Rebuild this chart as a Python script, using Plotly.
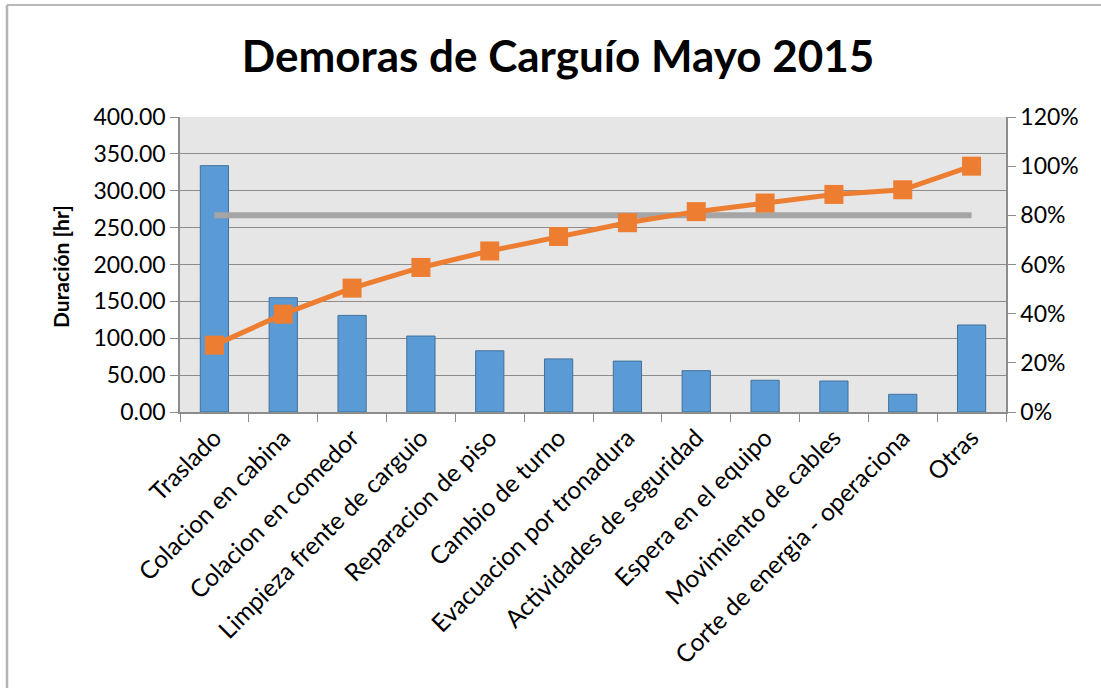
import plotly.graph_objects as go

# Datos de demoras (horas) y porcentaje acumulado
categorias = [
    "Traslado", "Colacion en cabina", "Colacion en comedor",
    "Limpieza frente de carguio", "Reparacion de piso", "Cambio de turno",
    "Evacuacion por tronadura", "Actividades de seguridad",
    "Espera en el equipo", "Movimiento de cables",
    "Corte de energia - operaciona", "Otras",
]
duracion = [334, 155, 131, 103, 83, 72, 69, 56, 43, 42, 24, 118]
acumulado = [27.2, 39.8, 50.4, 58.8, 65.5, 71.4, 77.0, 81.5, 85.0, 88.5, 90.4, 100.0]
meta = [80] * 12

FONT = "Lato"
W, H = 1101, 688

fig = go.Figure()

fig.add_trace(go.Bar(
    x=categorias, y=duracion, name="Duración",
    marker=dict(color="#5B9BD5", line=dict(color="#41719C", width=1)),
))

fig.add_trace(go.Scatter(
    x=categorias, y=meta, yaxis="y2", mode="lines", name="80%",
    line=dict(color="#A5A5A5", width=6),
))

fig.add_trace(go.Scatter(
    x=categorias, y=acumulado, yaxis="y2", mode="lines+markers", name="Acumulado",
    line=dict(color="#ED7D31", width=5),
    marker=dict(symbol="square", size=19, color="#ED7D31"),
))

# pixel -> coordenadas paper (area de trazado 180..1006 x 117..412)
px_x = lambda p: (p - 180) / 826
px_y = lambda p: (412 - p) / 295

fig.update_layout(
    width=W, height=H,
    margin=dict(l=180, r=W - 180 - 826, t=117, b=H - 117 - 295),
    paper_bgcolor="white",
    plot_bgcolor="#E6E6E6",
    showlegend=False,
    bargap=0.59,
    font=dict(family=FONT, color="black"),
    title=dict(
        text="<b>Demoras de Carguío Mayo 2015</b>",
        font=dict(size=44, family=FONT, color="black"),
        x=558 / W, xanchor="center", y=1 - 57 / H, yanchor="middle",
        xref="container", yref="container",
    ),
    xaxis=dict(
        type="category", range=[-0.5, 11.5], tickangle=-45, tickfont=dict(size=24.5),
        showgrid=False, tickson="boundaries", ticks="outside", ticklen=8,
        tickcolor="#8C8C8C", showline=True, linecolor="#8C8C8C", linewidth=1.5,
    ),
    yaxis=dict(
        range=[0, 400], dtick=50, tickformat=".2f", tickfont=dict(size=23),
        showgrid=True, gridcolor="#8C8C8C", gridwidth=1.2,
        ticks="outside", ticklen=8, tickcolor="#8C8C8C",
        showline=True, linecolor="#8C8C8C", linewidth=1.5, zeroline=False,
    ),
    yaxis2=dict(
        range=[0, 120], dtick=20, ticksuffix="%", tickfont=dict(size=23),
        overlaying="y", side="right", showgrid=False,
        ticks="outside", ticklen=8, tickcolor="#8C8C8C",
        showline=True, linecolor="#8C8C8C", linewidth=1.5, zeroline=False,
    ),
    annotations=[
        dict(text="<b>Duración [hr]</b>", textangle=-90, showarrow=False,
             xref="paper", yref="paper", x=px_x(60), y=px_y(267),
             xanchor="center", yanchor="middle", font=dict(size=21)),
    ],
    shapes=[
        dict(type="line", xref="paper", yref="paper",
             x0=px_x(7), x1=px_x(1110), y0=px_y(5), y1=px_y(5),
             line=dict(color="#A0A0A0", width=1.5)),
        dict(type="line", xref="paper", yref="paper",
             x0=px_x(7), x1=px_x(7), y0=px_y(5), y1=px_y(700),
             line=dict(color="#B4B4B4", width=2.5)),
    ],
)

fig.write_html(
    "out.html",
    config={"displayModeBar": False},
    post_script="document.body.style.margin='0';"
                "document.documentElement.style.overflow='hidden';"
                "document.body.style.overflow='hidden';",
)
